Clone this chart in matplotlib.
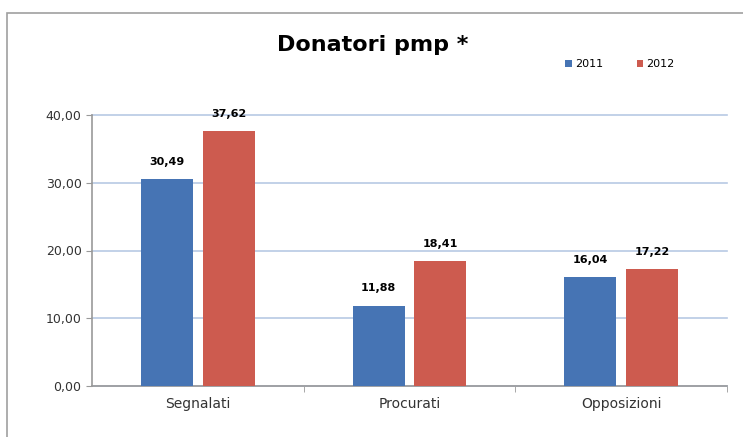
import numpy as np
import matplotlib.pyplot as plt
from matplotlib.patches import Rectangle

categories = ["Segnalati", "Procurati", "Opposizioni"]
years = ["2011", "2012"]
values_2011 = [30.49, 11.88, 16.04]
values_2012 = [37.62, 18.41, 17.22]
y_ticks = [0, 10, 20, 30, 40]

blue = "#4674B4"
red = "#CD5B4F"


def fmt(v):
    return f"{v:.2f}".replace(".", ",")


fig = plt.figure(figsize=(7.43, 4.37), dpi=100)
# outer chart frame (left and top edges visible)
fig.patches.append(Rectangle((7 / 743, -0.1), 1.2, 1 - 13 / 437 + 0.1,
                             transform=fig.transFigure, fill=False,
                             edgecolor="#a0a0a0", linewidth=1.2))

ax = fig.add_axes([92 / 743, 51 / 437, (727 - 92) / 743, (386 - 115) / 437])
x = np.arange(len(categories))
w = 0.245
off = 0.146
b1 = ax.bar(x - off, values_2011, w, color=blue, label=years[0], zorder=3)
b2 = ax.bar(x + off, values_2012, w, color=red, label=years[1], zorder=3)

for bars, vals in ((b1, values_2011), (b2, values_2012)):
    for rect, v in zip(bars, vals):
        ax.text(rect.get_x() + rect.get_width() / 2, v + 1.8, fmt(v),
                ha="center", va="bottom", fontsize=8, fontweight="bold")

ax.set_xlim(-0.5, 2.5)
ax.set_ylim(0, 40)
ax.set_yticks(y_ticks)
ax.set_yticklabels([fmt(v) for v in y_ticks], fontsize=9, color="#333333")
ax.set_xticks(x)
ax.set_xticklabels(categories, fontsize=10, color="#333333")
ax.tick_params(axis="x", length=0, pad=8)
ax.set_xticks([0.5, 1.5, 2.5], minor=True)
ax.tick_params(axis="x", which="minor", length=4, color="#999999", direction="out")
ax.tick_params(axis="y", length=4, color="#999999", direction="out")
ax.yaxis.grid(True, color="#B8C9E4", linewidth=1.2, zorder=0)
for gl in ax.get_ygridlines():
    gl.set_clip_on(False)
ax.set_axisbelow(True)
for s in ("top", "right"):
    ax.spines[s].set_visible(False)
for s in ("left", "bottom"):
    ax.spines[s].set_color("#999999")
    ax.spines[s].set_linewidth(1.2)

fig.text(373 / 743, 1 - 45 / 437, "Donatori pmp *", ha="center", va="center",
         fontsize=16, fontweight="bold")
fig.legend(handles=[b1, b2], labels=years, loc="center", ncol=2,
           bbox_to_anchor=(620 / 743, 1 - 64 / 437), frameon=False,
           fontsize=8, handlelength=0.6, handleheight=0.6, columnspacing=3.0,
           handletextpad=0.3)

fig.savefig("out.png", dpi=100)
